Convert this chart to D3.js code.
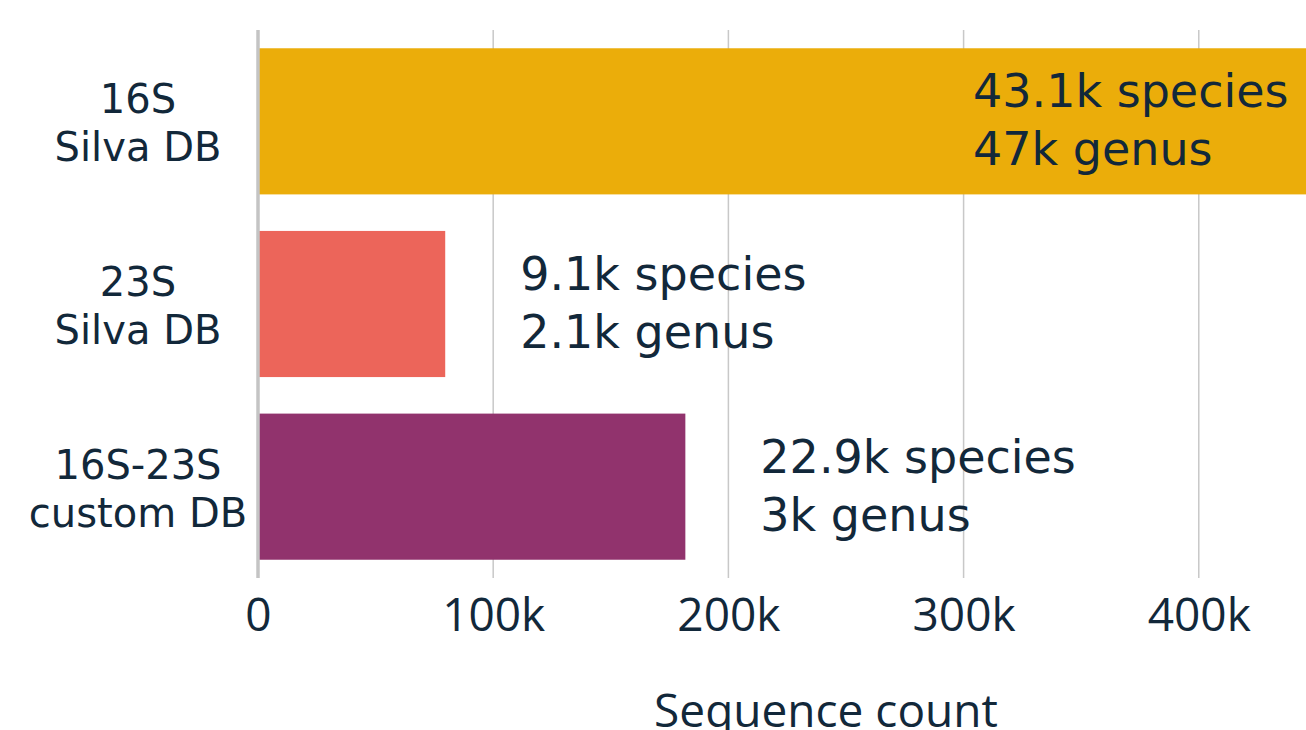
<!DOCTYPE html>
<meta charset="utf-8">
<head>
  <style>
  body { margin: 0; background: #fff; }
  svg { display: block; overflow: hidden; }
  .grid line { stroke: #c8c8c8; stroke-width: 1.5px; }
  .cat { font-family: "DejaVu Sans"; font-size: 40px; fill: #12283a; }
  .note { font-family: "DejaVu Sans"; font-size: 46px; fill: #12283a; }
  .tick text, .xlabel { font-family: "Open Sans"; font-size: 46px; fill: #12283a; }
  </style>
</head>
<body>
<svg width="1306" height="730"></svg>
<script src="https://cdn.jsdelivr.net/npm/d3@7/dist/d3.min.js"></script>
<script>

// data
var categories = [["16S", "Silva DB"], ["23S", "Silva DB"], ["16S-23S", "custom DB"]];
var counts = [510000, 79600, 181700];
var species = ["43.1k species", "9.1k species", "22.9k species"];
var genus = ["47k genus", "2.1k genus", "3k genus"];
var colors = ["#ebad0a", "#ec655a", "#91336d"];
var ticks = [0, 100000, 200000, 300000, 400000];

var svg = d3.select("svg"),
    width = +svg.attr("width"),
    height = +svg.attr("height");

// plot area runs past the right edge of the picture
var x = d3.scaleLinear()
    .domain([0, 483000])
    .range([258, 1394]);

var y = d3.scaleBand()
    .domain(d3.range(categories.length))
    .range([30, 578])
    .paddingInner(0.2)
    .paddingOuter(0.1);

// gridlines
svg.append("g")
    .attr("class", "grid")
  .selectAll("line")
    .data(ticks.slice(1))
    .enter().append("line")
    .attr("x1", function(d) { return x(d); })
    .attr("x2", function(d) { return x(d); })
    .attr("y1", 30)
    .attr("y2", 578);

// bars
svg.append("g").selectAll("rect")
    .data(counts)
    .enter().append("rect")
    .attr("x", x(0))
    .attr("y", function(d, i) { return y(i); })
    .attr("width", function(d) { return x(d) - x(0); })
    .attr("height", y.bandwidth())
    .attr("fill", function(d, i) { return colors[i]; });

// zero line
svg.append("line")
    .attr("x1", x(0)).attr("x2", x(0))
    .attr("y1", 30).attr("y2", 578)
    .attr("stroke", "#c4c4c4")
    .attr("stroke-width", 3.5);

// x axis labels
var xAxis = d3.axisBottom(x)
    .tickValues(ticks)
    .tickSize(0)
    .tickPadding(0)
    .tickFormat(function(d) { return d === 0 ? "0" : (d / 1000) + "k"; });

var ax = svg.append("g")
    .attr("transform", "translate(0,598)")
    .call(xAxis);
ax.select(".domain").remove();
ax.selectAll("text").attr("dy", "0.71em").attr("y", 0);

svg.append("text")
    .attr("class", "xlabel")
    .attr("x", (x.range()[0] + x.range()[1]) / 2)
    .attr("y", 727)
    .attr("text-anchor", "middle")
    .text("Sequence count");

// category labels
var cat = svg.append("g").selectAll("text")
    .data(categories)
    .enter().append("text")
    .attr("class", "cat")
    .attr("text-anchor", "middle")
    .attr("x", 138)
    .attr("y", function(d, i) { return y(i) + y.bandwidth() / 2; });
cat.append("tspan").attr("x", 138).attr("dy", -8).text(function(d) { return d[0]; });
cat.append("tspan").attr("x", 138).attr("dy", 48).text(function(d) { return d[1]; });

// annotations
var note = svg.append("g").selectAll("text")
    .data(counts)
    .enter().append("text")
    .attr("class", "note")
    .attr("y", function(d, i) { return y(i) + y.bandwidth() / 2; });
function noteX(d) { return Math.min(x(d) + 75, x(304000)); }
note.append("tspan")
    .attr("x", noteX)
    .attr("dy", -14)
    .text(function(d, i) { return species[i]; });
note.append("tspan")
    .attr("x", noteX)
    .attr("dy", 58)
    .text(function(d, i) { return genus[i]; });

</script>
